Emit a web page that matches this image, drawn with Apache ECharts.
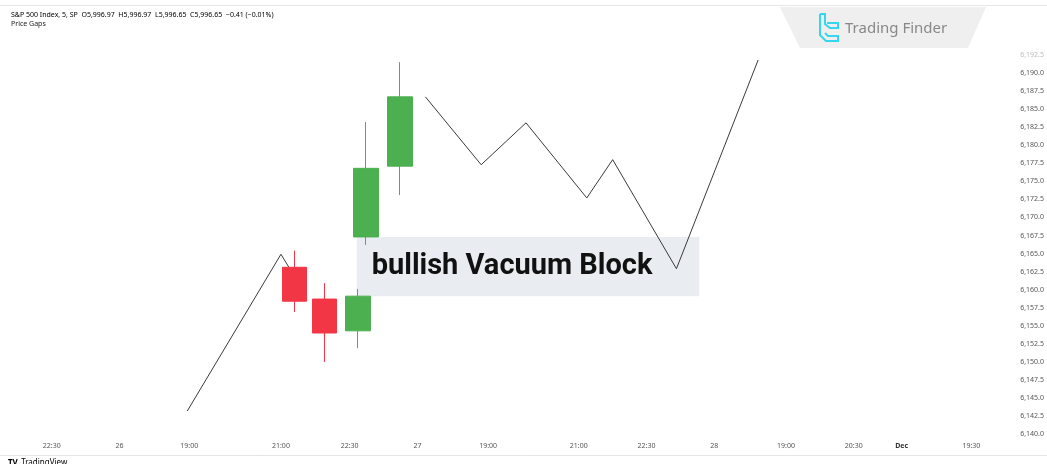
<!DOCTYPE html>
<html>
<head>
<meta charset="utf-8">
<title>bullish Vacuum Block</title>
<script src="https://cdn.jsdelivr.net/npm/echarts@6/dist/echarts.min.js"></script>
<style>
  html, body { margin: 0; padding: 0; background: #fff; }
  #chart { width: 1047px; height: 464px; }
</style>
</head>
<body>
<div id="chart"></div>
<script>
// 数据
var xTickPos = [5.2, 12.0, 19.0, 28.2, 35.1, 41.9, 49.0, 58.1, 64.9, 71.7, 78.9, 85.7, 90.5, 97.5];
var xTickLabels = ['22:30', '26', '19:00', '21:00', '22:30', '27', '19:00', '21:00', '22:30', '28', '19:00', '20:30', 'Dec', '19:30'];
var yTicks = [6140, 6142.5, 6145, 6147.5, 6150, 6152.5, 6155, 6157.5, 6160, 6162.5, 6165, 6167.5,
              6170, 6172.5, 6175, 6177.5, 6180, 6182.5, 6185, 6187.5, 6190, 6192.5];

// 蜡烛: [x, open, close, low, high]
var candleX = [29.55, 32.55, 35.95, 36.75, 40.15];
var candleOpen = [6163.1, 6158.7, 6154.3, 6167.3, 6177.1];
var candleClose = [6158.4, 6154.0, 6159.1, 6176.8, 6186.7];
var candleLow = [6156.9, 6150.0, 6151.9, 6166.2, 6173.1];
var candleHigh = [6165.4, 6160.9, 6160.1, 6183.2, 6191.5];

// 折线
var leg1X = [18.8, 28.2, 29.0];
var leg1Y = [6143.2, 6164.9, 6163.1];
var leg2X = [42.7, 48.3, 52.8, 58.9, 61.5, 67.9, 76.1];
var leg2Y = [6186.7, 6177.3, 6183.1, 6172.7, 6178.0, 6162.9, 6191.8];

// 标注框
var boxX = [35.8, 70.2];
var boxY = [6159.1, 6167.3];

function pairs(xs, ys) {
    return xs.map(function (x, i) { return [x, ys[i]]; });
}

var candleData = candleX.map(function (x, i) {
    return [x, candleOpen[i], candleClose[i], candleLow[i], candleHigh[i]];
});

var dom = document.getElementById("chart");
var myChart = echarts.init(dom);
var option = {
    backgroundColor: '#ffffff',
    animation: false,
    grid: { left: 0, right: 47, top: 8, bottom: 27 },
    xAxis: {
        type: 'value',
        min: 0,
        max: 100,
        axisLine: { show: false },
        axisTick: { show: false },
        splitLine: { show: false },
        axisLabel: {
            customValues: xTickPos,
            margin: 5,
            fontSize: 7,
            color: '#555',
            fontFamily: 'Noto Sans',
            formatter: function (v) {
                var s = xTickLabels[xTickPos.indexOf(v)] || '';
                return s === 'Dec' ? '{b|Dec}' : s;
            },
            rich: { b: { fontWeight: 'bold', fontSize: 7, color: '#333', fontFamily: 'Noto Sans' } }
        }
    },
    yAxis: {
        type: 'value',
        position: 'right',
        min: 6139.6,
        max: 6199,
        axisLine: { show: false },
        axisTick: { show: false },
        splitLine: { show: false },
        axisLabel: {
            customValues: yTicks,
            margin: 24,
            fontSize: 7,
            color: function (v) { return v > 6191 ? '#bbb' : '#555'; },
            fontFamily: 'Noto Sans',
            formatter: function (v) {
                return v.toLocaleString('en-US', { minimumFractionDigits: 1, maximumFractionDigits: 1 });
            }
        }
    },
    series: [
        {
            type: 'line',
            data: pairs(leg1X, leg1Y),
            symbol: 'none',
            z: 1,
            lineStyle: { color: '#3a3a3a', width: 1 }
        },
        {
            type: 'candlestick',
            data: candleData,
            encode: { x: 0, y: [1, 2, 3, 4] },
            barWidth: 25,
            z: 2,
            itemStyle: {
                color: '#4caf50',
                color0: '#f23645',
                borderColor: '#4caf50',
                borderColor0: '#f23645',
                borderWidth: 1
            }
        },
        {
            type: 'line',
            data: [],
            z: 3,
            markArea: {
                silent: true,
                itemStyle: { color: '#e9edf1' },
                label: {
                    show: true,
                    position: 'insideLeft',
                    distance: 15,
                    fontSize: 29,
                    fontWeight: 'bold',
                    fontFamily: 'Roboto',
                    color: '#111'
                },
                data: [[
                    { name: 'bullish Vacuum Block', coord: [boxX[0], boxY[1]] },
                    { coord: [boxX[1], boxY[0]] }
                ]]
            }
        },
        {
            type: 'line',
            data: pairs(leg2X, leg2Y),
            symbol: 'none',
            z: 5,
            lineStyle: { color: '#3a3a3a', width: 1 }
        }
    ],
    graphic: [
        {
            type: 'line',
            shape: { x1: 0, y1: 5.5, x2: 1047, y2: 5.5 },
            style: { stroke: '#e6e6e6', lineWidth: 1 }
        },
        {
            type: 'line',
            shape: { x1: 0, y1: 455.5, x2: 1047, y2: 455.5 },
            style: { stroke: '#e6e6e6', lineWidth: 1 }
        },
        {
            type: 'text',
            left: 11,
            top: 11,
            style: {
                text: '{n|S&P 500 Index, 5, SP}  {n|O}{r|5,996.97}  {n|H}{r|5,996.97}  {n|L}{r|5,996.65}  {n|C}{r|5,996.65}  {r|−0.41 (−0.01%)}',
                fontSize: 7,
                fontFamily: 'Noto Sans',
                rich: {
                    n: { fontSize: 7, color: '#222', fontFamily: 'Noto Sans' },
                    r: { fontSize: 7, color: '#f23645', fontFamily: 'Noto Sans' }
                }
            }
        },
        {
            type: 'text',
            left: 11,
            top: 20,
            style: { text: 'Price Gaps', fontSize: 7, fill: '#222', fontFamily: 'Noto Sans' }
        },
        {
            type: 'text',
            left: 8,
            top: 457,
            style: {
                text: '{t|TV} {n|TradingView}',
                rich: {
                    t: { fontSize: 8, fontWeight: 'bold', color: '#131722', fontFamily: 'Noto Sans' },
                    n: { fontSize: 8, color: '#131722', fontFamily: 'Noto Sans' }
                }
            }
        },
        // 右上角的水印
        {
            type: 'polygon',
            z: 10,
            shape: { points: [[780, 7], [986, 7], [968, 48], [800, 48]] },
            style: { fill: '#efefef' }
        },
        {
            type: 'polyline',
            z: 11,
            shape: { points: [[820, 14], [825, 14], [825, 24], [830, 28], [838, 28], [838, 23], [827, 23]] },
            style: { stroke: '#35d6ee', lineWidth: 2, fill: null }
        },
        {
            type: 'polyline',
            z: 11,
            shape: { points: [[820, 14], [820, 35], [826, 41], [838, 41], [838, 36], [828, 36], [825, 33]] },
            style: { stroke: '#35d6ee', lineWidth: 2, fill: null }
        },
        {
            type: 'text',
            z: 11,
            left: 845,
            top: 21,
            style: { text: 'Trading Finder', fontSize: 15, fill: '#888', fontFamily: 'Noto Sans' }
        }
    ]
};

if (option && typeof option === "object") {
    myChart.setOption(option, true);
}
</script>
</body>
</html>
